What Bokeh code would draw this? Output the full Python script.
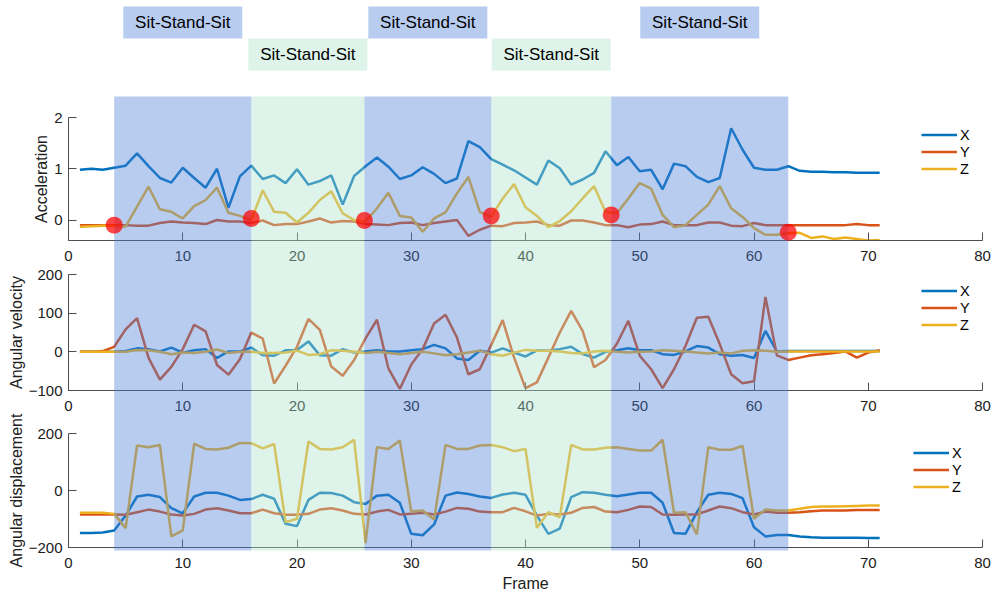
from bokeh.plotting import figure
from bokeh.models import Range1d, Legend, LegendItem, FixedTicker, ColumnDataSource, Column
from bokeh.embed import file_html
from bokeh.resources import INLINE
from bokeh.core.properties import value

# ---------------------------------------------------------------- data
frames = list(range(1, 72))

acc_x = [0.98, 1.00, 0.98, 1.02, 1.06, 1.30, 1.05, 0.82, 0.73, 1.02,
         0.82, 0.63, 1.00, 0.24, 0.85, 1.06, 0.80, 0.87, 0.72, 0.99,
         0.69, 0.76, 0.87, 0.30, 0.86, 1.05, 1.22, 1.04, 0.80, 0.87,
         1.03, 0.90, 0.72, 0.81, 1.54, 1.42, 1.19, 1.08, 0.97, 0.83,
         0.69, 1.16, 1.01, 0.69, 0.79, 0.92, 1.34, 1.07, 1.23, 0.95,
         0.98, 0.60, 1.10, 1.05, 0.84, 0.74, 0.82, 1.79, 1.37, 1.02,
         0.98, 0.98, 1.05, 0.96, 0.94, 0.94, 0.93, 0.93, 0.92, 0.92, 0.92]
acc_y = [-0.10, -0.10, -0.10, -0.10, -0.10, -0.11, -0.11, -0.06, -0.03, -0.05,
         -0.06, -0.08, 0.00, -0.03, -0.03, -0.06, -0.01, -0.10, -0.08, -0.08,
         -0.03, 0.03, -0.05, -0.02, -0.03, -0.08, -0.09, -0.10, -0.06, -0.05,
         -0.10, -0.06, -0.03, 0.00, -0.31, -0.19, -0.11, -0.12, -0.06, -0.05,
         -0.03, -0.10, -0.11, -0.01, -0.01, -0.05, -0.10, -0.10, -0.14, -0.09,
         -0.08, -0.03, -0.10, -0.10, -0.10, -0.05, -0.05, -0.11, -0.12, -0.06,
         -0.10, -0.10, -0.10, -0.10, -0.10, -0.10, -0.10, -0.10, -0.08, -0.10, -0.10]
acc_z = [-0.13, -0.12, -0.11, -0.11, -0.13, 0.26, 0.65, 0.21, 0.16, 0.03,
         0.27, 0.39, 0.63, 0.14, 0.08, 0.00, 0.58, 0.16, 0.14, -0.05,
         0.14, 0.39, 0.56, 0.13, 0.00, -0.03, 0.23, 0.53, 0.08, 0.05,
         -0.23, 0.03, 0.15, 0.52, 0.84, 0.16, 0.06, 0.42, 0.70, 0.25,
         0.08, -0.14, -0.02, 0.17, 0.42, 0.66, 0.16, 0.13, 0.42, 0.72,
         0.61, 0.10, -0.14, -0.10, 0.10, 0.30, 0.66, 0.23, 0.06, -0.16,
         -0.29, -0.29, -0.26, -0.25, -0.35, -0.32, -0.37, -0.34, -0.37, -0.40, -0.39]

vel_x = [0, 0, 0, 0, 2, 9, 7, 1, 11, -2,
         4, 7, -16, 1, 1, 11, -9, -10, 4, 5,
         27, -9, -10, 7, -2, 1, 4, 1, 1, 4,
         7, 18, 9, -17, -21, 3, -2, 9, -2, -12,
         4, 3, 7, 13, -6, -15, 0, 4, 9, 4,
         4, -6, -8, 1, 15, 11, -6, -10, -8, -16,
         54, 1, 2, 2, 2, 2, 2, 2, 2, 2, 2]
vel_y = [0, 0, 2, 13, 58, 87, -15, -72, -39, 7,
         70, 53, -34, -59, -19, 50, 34, -82, -36, 13,
         85, 57, -38, -62, -21, 35, 83, -43, -96, -33,
         7, 73, 96, 37, -58, -45, 18, 82, -15, -94,
         -79, -15, 50, 106, 54, -40, -21, 21, 80, -10,
         -45, -94, -45, 15, 88, 91, 20, -58, -81, -76,
         142, -9, -21, -15, -9, -6, -3, 1, -15, -2, 4]
vel_z = [0, 0, 0, 0, 0, 5, 4, 0, -6, -2,
         -3, 0, 6, -3, 0, 0, -3, -3, -2, 3,
         -8, -6, 4, 3, 0, -3, 0, -3, -6, -3,
         0, -4, -9, -6, -2, 3, -6, -10, -2, 5,
         3, 3, 1, -3, -4, 1, 3, 0, -2, 0,
         1, 4, 3, 1, -2, -4, -2, -4, 3, 4,
         3, 0, 1, 1, 1, 1, 1, 1, 1, 1, 1]

disp_x = [-149, -149, -147, -140, -88, -21, -15, -23, -62, -80,
          -21, -8, -8, -18, -33, -30, -15, -29, -117, -125,
          -33, -8, -9, -18, -41, -47, -18, -15, -43, -152,
          -157, -119, -18, -7, -12, -21, -26, -14, -8, -15,
          -88, -152, -134, -23, -6, -8, -15, -20, -14, -8,
          -8, -43, -149, -152, -76, -15, -8, -12, -27, -129,
          -161, -156, -156, -161, -164, -166, -166, -166, -166, -167, -167]
disp_y = [-84, -84, -84, -84, -85, -76, -67, -74, -84, -88,
          -82, -67, -62, -70, -80, -80, -67, -80, -85, -85,
          -82, -67, -62, -70, -82, -84, -74, -68, -84, -82,
          -78, -84, -74, -61, -64, -74, -76, -76, -61, -73,
          -88, -82, -84, -78, -61, -58, -74, -76, -68, -56,
          -58, -84, -85, -84, -84, -70, -56, -62, -76, -84,
          -74, -78, -78, -76, -73, -70, -70, -70, -68, -68, -68]
disp_z = [-78, -78, -78, -82, -132, 158, 152, 160, -161, -140,
          164, 146, 144, 150, 167, 166, 148, 163, -111, -99,
          172, 146, 144, 152, 178, -185, 152, 146, 175, -74,
          -70, -102, 160, 146, 146, 158, 160, 152, 138, 146,
          -131, -76, -94, 160, 144, 144, 150, 152, 146, 140,
          140, 178, -78, -76, -154, 152, 143, 143, 156, -99,
          -67, -70, -70, -64, -58, -56, -56, -55, -54, -53, -53]

# phase boundaries (frame numbers) and the detected transition points
phase_edges = [4, 16, 25.9, 37, 47.5, 63]
event_acc = [-0.10, 0.03, -0.01, 0.08, 0.10, -0.24]
phase_labels = ["Sit-Stand-Sit"] * 5

# ---------------------------------------------------------------- style / layout
FONT = "Liberation Sans"
C_X, C_Y, C_Z = "#0072BD", "#D95319", "#EDB120"
SHADE = ["#4D80D9", "#ACE1C8"]       # alternating phase colours
SHADE_ALPHA = 0.4
AXIS_C = "#4d4d4d"
TEXT_C = "#202020"
W, H = 991, 594
BORDER_L, BORDER_R = 68, 9
# vertical extent (page pixels) of each panel's plotting area
ACC_TOP, ACC_BOT = 117, 240
VEL_TOP, VEL_BOT = 274, 390
DSP_TOP, DSP_BOT = 433, 547
SHADE_TOP, SHADE_BOT = 96, 550


def layer(y_range, top, bottom, **kw):
    """A transparent full-page figure; stacked layers share the same page area."""
    p = figure(width=W, height=H, x_range=Range1d(0, 80), y_range=y_range,
               output_backend="svg", toolbar_location=None,
               min_border_left=BORDER_L, min_border_right=BORDER_R,
               min_border_top=top, min_border_bottom=H - bottom, **kw)
    p.outline_line_color = None
    p.background_fill_color = None
    p.border_fill_color = None
    p.grid.visible = False
    return p


def panel(top, bottom, y0, y1, yticks, ylabel):
    p = layer(Range1d(y0, y1), top, bottom)
    p.xaxis.ticker = FixedTicker(ticks=list(range(0, 81, 10)))
    p.yaxis.ticker = FixedTicker(ticks=yticks)
    for ax in (p.xaxis[0], p.yaxis[0]):
        ax.axis_line_color = AXIS_C
        ax.axis_line_width = 1
        ax.major_tick_line_color = AXIS_C
        ax.major_tick_in = 8
        ax.major_tick_out = 0
        ax.minor_tick_line_color = None
        ax.major_label_text_font = FONT
        ax.major_label_text_font_size = "15px"
        ax.major_label_text_color = TEXT_C
    p.xaxis.major_label_standoff = 10
    p.yaxis.major_label_standoff = 6
    p.yaxis.axis_label = ylabel
    p.yaxis.axis_label_text_font = FONT
    p.yaxis.axis_label_text_font_size = "16px"
    p.yaxis.axis_label_text_font_style = "normal"
    p.yaxis.axis_label_text_color = TEXT_C
    p.yaxis.axis_label_standoff = 1
    return p


def add_series(p, xs, ys, zs, legend_xy):
    src = ColumnDataSource(dict(frame=frames, x=xs, y=ys, z=zs))
    rx = p.line("frame", "x", source=src, line_color=C_X, line_width=2.5)
    ry = p.line("frame", "y", source=src, line_color=C_Y, line_width=2.5)
    rz = p.line("frame", "z", source=src, line_color=C_Z, line_width=2.5)
    leg = Legend(items=[LegendItem(label="X", renderers=[rx]),
                        LegendItem(label="Y", renderers=[ry]),
                        LegendItem(label="Z", renderers=[rz])],
                 location=legend_xy, orientation="vertical",
                 border_line_color=None, background_fill_alpha=0,
                 padding=0, margin=0, spacing=0,
                 glyph_width=36, glyph_height=17, label_height=17,
                 label_standoff=3, label_text_font=FONT,
                 label_text_font_size="14.5px", label_text_color="black")
    p.add_layout(leg)


# ---------------------------------------------------------------- acceleration
p1 = panel(ACC_TOP, ACC_BOT, -0.4, 2, [0, 1, 2], "Acceleration")
add_series(p1, acc_x, acc_y, acc_z, (853, 63))

# ---------------------------------------------------------------- angular velocity
p2 = panel(VEL_TOP, VEL_BOT, -100, 200, [-100, 0, 100, 200], "Angular velocity")
add_series(p2, vel_x, vel_y, vel_z, (853, 57))

# ---------------------------------------------------------------- angular displacement
p3 = panel(DSP_TOP, DSP_BOT, -200, 200, [-200, 0, 200], "Angular displacement")
p3.xaxis.axis_label = "Frame"
p3.xaxis.axis_label_text_font = FONT
p3.xaxis.axis_label_text_font_size = "16px"
p3.xaxis.axis_label_text_font_style = "normal"
p3.xaxis.axis_label_text_color = TEXT_C
p3.xaxis.axis_label_standoff = 4
add_series(p3, disp_x, disp_y, disp_z, (845, 52))

# ---------------------------------------------------------------- phase overlay
# full-page layer drawn above the panels: y is measured in page pixels from the top
ov = layer(Range1d(H, 0), 0, H, x_axis_location=None, y_axis_location=None)

n = len(phase_labels)
shade_src = ColumnDataSource(dict(
    left=phase_edges[:-1], right=phase_edges[1:],
    c=[SHADE[i % 2] for i in range(n)],
    mid=[(phase_edges[i] + phase_edges[i + 1]) / 2 for i in range(n)],
    row=[22 if i % 2 == 0 else 54 for i in range(n)],
    t=phase_labels))
ov.quad(left="left", right="right", top=SHADE_TOP, bottom=SHADE_BOT, fill_color="c",
        fill_alpha=SHADE_ALPHA, line_color=None, source=shade_src)
ov.rect(x="mid", y="row", width=119, height=32, width_units="screen", height_units="screen",
        fill_color="c", fill_alpha=SHADE_ALPHA, line_color=None, source=shade_src)
ov.text(x="mid", y="row", text="t", text_align="center", text_baseline="middle",
        text_font=value(FONT), text_font_size="17px", text_color="black", source=shade_src)

# transition markers use the acceleration panel's scale, extended to the full page
k = (ACC_BOT - ACC_TOP) / (2 - (-0.4))
ov.extra_y_ranges = {"acc": Range1d(-0.4 - (H - ACC_BOT) / k, 2 + ACC_TOP / k)}
ov.scatter(x=phase_edges, y=event_acc, y_range_name="acc", size=17,
           fill_color="#ff0000", fill_alpha=0.72, line_color=None)

# stack the layers on top of each other
for lay in (p2, p3, ov):
    lay.margin = (-H, 0, 0, 0)
layout = Column(children=[p1, p2, p3, ov], spacing=0, width=W, height=H)
open("out.html", "w").write(file_html(layout, INLINE))
